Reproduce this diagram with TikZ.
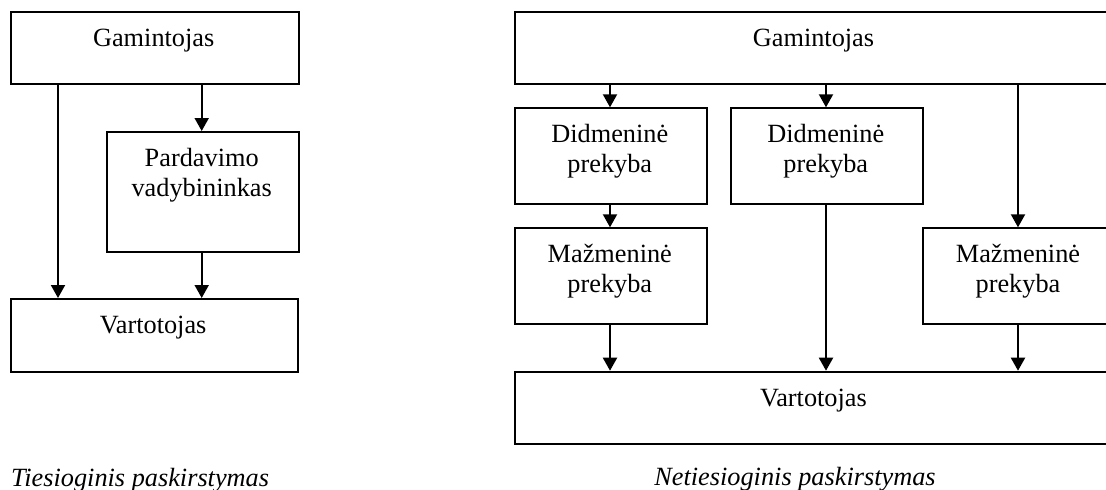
\documentclass[tikz,border=0pt]{standalone}
\usepackage{fontspec}
\setmainfont{Liberation Serif}
\usetikzlibrary{arrows.meta}
\begin{document}
\begin{tikzpicture}[x=1pt,y=-1pt,
  box/.style={draw, line width=2pt, rectangle, inner sep=0pt, anchor=north west},
  lbl/.style={anchor=base, inner sep=0pt, font=\fontsize{26.3}{30}\selectfont},
  captiontext/.style={anchor=base, inner sep=0pt, font=\fontsize{26.3}{30}\selectfont\itshape},
  flow/.style={line width=2pt, -{Triangle[width=14pt,length=13pt]}}]
\useasboundingbox (0,0) rectangle (1106,490);
\clip (0,0) rectangle (1106,490);

% ---------- direct distribution ----------
\node[box, minimum width=288.5pt, minimum height=71.7pt]  (g1) at (9.5,11) {};
\node[box, minimum width=192pt,   minimum height=119.7pt] (p1) at (105.7,131) {};
\node[box, minimum width=287.2pt, minimum height=72.7pt]  (v1) at (9.5,298) {};

\node[lbl] (tg1) at (153.7,46) {Gamintojas};
\node[lbl] (tp1) at (201.7,166.7) {\begin{tabular}[t]{@{}c@{}}Pardavimo\\vadybininkas\end{tabular}};
\node[lbl] (tv1) at (153.1,333.3) {Vartotojas};

\coordinate (xa) at (58,0);
\coordinate (xb) at (201.7,0);
\draw[flow] (g1.south -| xa) -- (v1.north -| xa);
\draw[flow] (g1.south -| xb) -- (p1.north -| xb);
\draw[flow] (p1.south -| xb) -- (v1.north -| xb);

\node[captiontext, anchor=base west] (c1) at (11,486) {Tiesioginis paskirstymas};

% ---------- indirect distribution ----------
\node[box, minimum width=599pt,   minimum height=71.7pt] (g2) at (514,11) {};
\node[box, minimum width=191.7pt, minimum height=96pt]   (d1) at (514,107.3) {};
\node[box, minimum width=191.7pt, minimum height=96pt]   (d2) at (730,107.3) {};
\node[box, minimum width=191.7pt, minimum height=95.4pt] (m1) at (514,227.3) {};
\node[box, minimum width=192pt,   minimum height=95.4pt] (m2) at (922,227.3) {};
\node[box, minimum width=599pt,   minimum height=72.3pt] (v2) at (514,370.7) {};

\node[lbl] (tg2) at (813.5,46) {Gamintojas};
\node[lbl] (td1) at (609.8,142.5) {\begin{tabular}[t]{@{}c@{}}Didmeninė\\prekyba\end{tabular}};
\node[lbl] (td2) at (825.8,142.5) {\begin{tabular}[t]{@{}c@{}}Didmeninė\\prekyba\end{tabular}};
\node[lbl] (tm1) at (609.8,262.5) {\begin{tabular}[t]{@{}c@{}}Mažmeninė\\prekyba\end{tabular}};
\node[lbl] (tm2) at (1018,262.5) {\begin{tabular}[t]{@{}c@{}}Mažmeninė\\prekyba\end{tabular}};
\node[lbl] (tv2) at (813.5,406) {Vartotojas};

\coordinate (xc) at (610,0);
\coordinate (xd) at (826,0);
\coordinate (xe) at (1018,0);
\draw[flow] (g2.south -| xc) -- (d1.north -| xc);
\draw[flow] (d1.south -| xc) -- (m1.north -| xc);
\draw[flow] (m1.south -| xc) -- (v2.north -| xc);
\draw[flow] (g2.south -| xd) -- (d2.north -| xd);
\draw[flow] (d2.south -| xd) -- (v2.north -| xd);
\draw[flow] (g2.south -| xe) -- (m2.north -| xe);
\draw[flow] (m2.south -| xe) -- (v2.north -| xe);

\node[captiontext] (c2) at (795,485) {Netiesioginis paskirstymas};
\end{tikzpicture}
\end{document}
